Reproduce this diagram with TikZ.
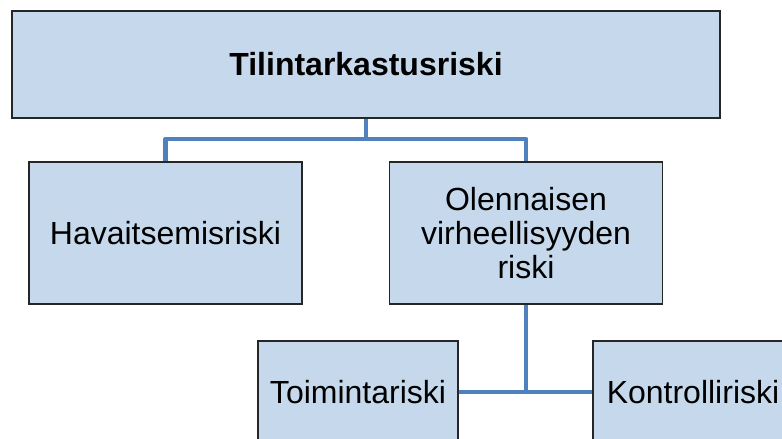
\documentclass[tikz,border=0pt]{standalone}
\usepackage{fontspec}
\setmainfont{Liberation Sans}
\definecolor{boxfill}{RGB}{198,217,236}
\definecolor{linkblue}{RGB}{79,129,189}
\tikzset{
  riskbox/.style={draw=black!85, fill=boxfill, line width=1.3pt, inner sep=0pt,
    align=center, font=\fontsize{32}{34}\selectfont},
  link/.style={draw=linkblue, line width=4.5pt, line join=round}
}
\begin{document}
\begin{tikzpicture}[x=1pt,y=1pt]
  \useasboundingbox (0,0) rectangle (782,-439);
  \clip (0,0) rectangle (782,-439);
  \node [riskbox, minimum width=708, minimum height=107,
    font=\bfseries\fontsize{32}{34}\selectfont] (audit) at (366,-64.5) {Tilintarkastusriski};
  \node [riskbox, minimum width=273, minimum height=142] (detect) at (165.5,-233) {Havaitsemisriski};
  \node [riskbox, minimum width=273, minimum height=142] (material) at (526,-233) {Olennaisen\\virheellisyyden\\riski};
  \node [riskbox, minimum width=200, minimum height=102] (inherent) at (358,-392) {Toimintariski};
  \node [riskbox, minimum width=200, minimum height=102] (control) at (693,-392) {Kontrolliriski};
  \coordinate (split) at (366,-139);
  \coordinate (join) at (526,-392);
  \draw [link] (audit.south) -- (split);
  \draw [link] (detect.north) |- (split) -| (material.north);
  \draw [link] (material.south) -- (join);
  \draw [link] (inherent.east) -- (control.west);
\end{tikzpicture}
\end{document}
